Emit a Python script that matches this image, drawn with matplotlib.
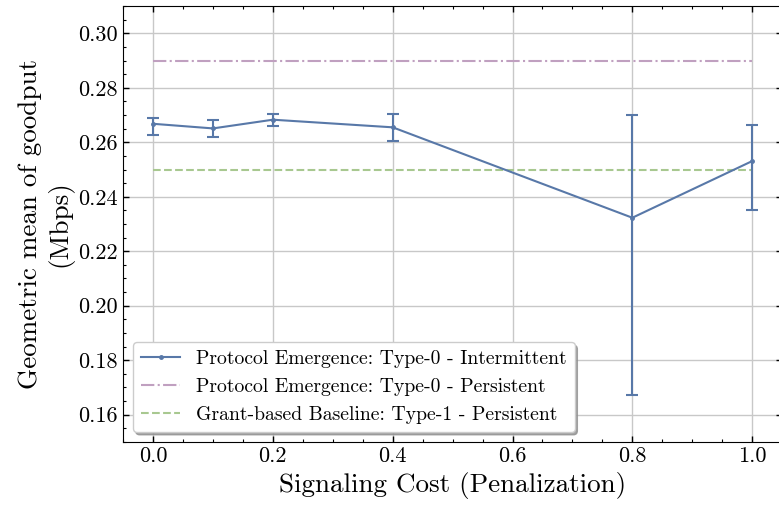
import numpy as np
import matplotlib
matplotlib.use("Agg")
import matplotlib.pyplot as plt
from matplotlib.ticker import MultipleLocator, FormatStrFormatter

plt.rcParams['font.family'] = ['cmr10', 'DejaVu Serif']
plt.rcParams['mathtext.fontset'] = 'cm'
plt.rcParams['axes.formatter.use_mathtext'] = True

# data
cost = [0.0, 0.1, 0.2, 0.4, 0.8, 1.0]
goodput = [0.2668, 0.2651, 0.2683, 0.2655, 0.2323, 0.2531]
err_low = [0.2626, 0.2618, 0.2660, 0.2604, 0.1672, 0.2352]
err_high = [0.2691, 0.2682, 0.2704, 0.2705, 0.2701, 0.2663]
persistent_type0 = 0.29
baseline_type1 = 0.25

labels = ["Protocol Emergence: Type-0 - Intermittent",
          "Protocol Emergence: Type-0 - Persistent",
          "Grant-based Baseline: Type-1 - Persistent"]

yerr = [np.array(goodput) - np.array(err_low), np.array(err_high) - np.array(goodput)]

fig, ax = plt.subplots(figsize=(7.79, 5.12), dpi=100)
fig.subplots_adjust(left=0.158, right=1.004, top=0.988, bottom=0.137)

blue = "#5878a8"
ax.errorbar(cost, goodput, yerr=yerr, fmt='none', ecolor=blue,
            capsize=4, capthick=1.5, elinewidth=1.5, zorder=3)
ax.plot(cost, goodput, color=blue, marker='.', markersize=5, linewidth=1.5,
        label=labels[0], zorder=3)
ax.hlines(persistent_type0, cost[0], cost[-1], colors="#c0a0c0", linestyles='-.',
          linewidth=1.5, label=labels[1], zorder=2)
ax.hlines(baseline_type1, cost[0], cost[-1], colors="#a8c890", linestyles='--',
          linewidth=1.5, label=labels[2], zorder=2)

ax.set_ylim(0.15, 0.31)
ax.set_xlim(-0.05, 1.05)
ax.xaxis.set_major_locator(MultipleLocator(0.2))
ax.xaxis.set_minor_locator(MultipleLocator(0.05))
ax.yaxis.set_major_locator(MultipleLocator(0.02))
ax.yaxis.set_minor_locator(MultipleLocator(0.005))
ax.xaxis.set_major_formatter(FormatStrFormatter('%.1f'))
ax.yaxis.set_major_formatter(FormatStrFormatter('%.2f'))
ax.tick_params(which='both', direction='in', top=True, right=True, labelsize=16)
ax.tick_params(which='major', length=4, width=1)
ax.tick_params(which='minor', length=2, width=0.8)
ax.grid(True, which='major', color='#c8c8c8', linewidth=1)
ax.set_axisbelow(True)

ax.set_xlabel("Signaling Cost (Penalization)", fontsize=19.5)
ax.set_ylabel("Geometric mean of goodput\n(Mbps)", fontsize=19.5)

leg = ax.legend(loc='lower left', fontsize=14.2, frameon=True, fancybox=True,
                shadow={'color': '#909090', 'alpha': 0.8}, framealpha=1, borderaxespad=0.5)

fig.savefig("out.png", dpi=100)
